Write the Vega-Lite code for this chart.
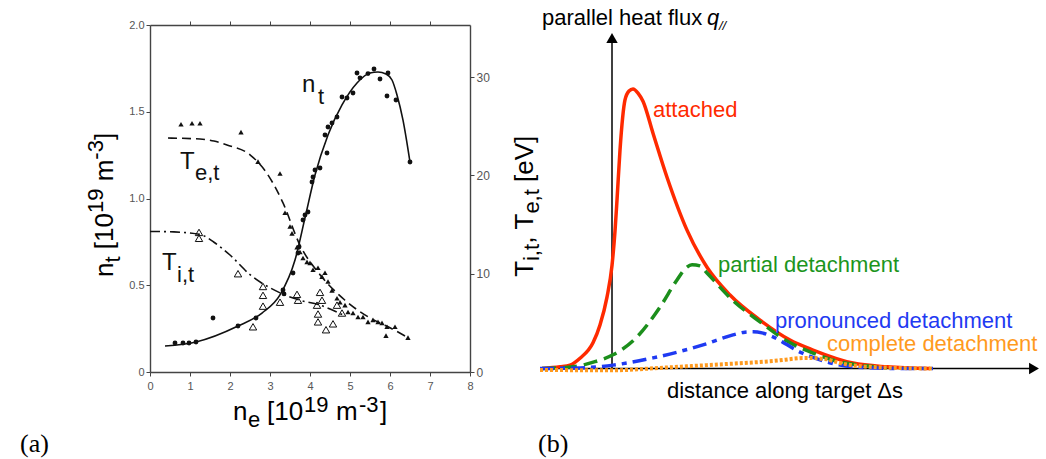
{
  "$schema": "https://vega.github.io/schema/vega-lite/v6.json",
  "background": "white",
  "padding": {"left": 20, "top": 7, "right": 0, "bottom": 0},
  "bounds": "flush",
  "spacing": 70,
  "config": {"view": {"stroke": null}, "font": "Liberation Sans", "axis": {"labelFont": "Liberation Sans"}},
  "datasets": {
    "nt_pts": [
      {"ne": 0.625, "nt": 0.167}, {"ne": 0.825, "nt": 0.167}, {"ne": 0.975, "nt": 0.167}, {"ne": 1.15, "nt": 0.173},
      {"ne": 1.575, "nt": 0.311}, {"ne": 2.2, "nt": 0.265}, {"ne": 2.65, "nt": 0.311}, {"ne": 3.325, "nt": 0.473},
      {"ne": 3.35, "nt": 0.45}, {"ne": 3.575, "nt": 0.571}, {"ne": 3.7, "nt": 0.686}, {"ne": 3.725, "nt": 0.72},
      {"ne": 3.825, "nt": 0.876}, {"ne": 3.875, "nt": 0.905}, {"ne": 3.95, "nt": 0.922}, {"ne": 4.05, "nt": 1.095},
      {"ne": 4.075, "nt": 1.124}, {"ne": 4.125, "nt": 1.164}, {"ne": 4.25, "nt": 1.176}, {"ne": 4.425, "nt": 1.262},
      {"ne": 4.375, "nt": 1.366}, {"ne": 4.45, "nt": 1.412}, {"ne": 4.55, "nt": 1.435}, {"ne": 4.675, "nt": 1.47},
      {"ne": 4.8, "nt": 1.585}, {"ne": 4.925, "nt": 1.579}, {"ne": 5.075, "nt": 1.608}, {"ne": 5.175, "nt": 1.723},
      {"ne": 5.25, "nt": 1.695}, {"ne": 5.45, "nt": 1.72}, {"ne": 5.6, "nt": 1.746}, {"ne": 5.75, "nt": 1.689},
      {"ne": 5.95, "nt": 1.723}, {"ne": 5.925, "nt": 1.591}, {"ne": 6.15, "nt": 1.568}, {"ne": 6.5, "nt": 1.21}
    ],
    "nt_fit": [
      {"ne": 0.375, "nt": 0.15}, {"ne": 1.15, "nt": 0.173}, {"ne": 2.2, "nt": 0.265}, {"ne": 2.8, "nt": 0.34},
      {"ne": 3.25, "nt": 0.444}, {"ne": 3.625, "nt": 0.645}, {"ne": 3.875, "nt": 0.888}, {"ne": 4.125, "nt": 1.135},
      {"ne": 4.45, "nt": 1.366}, {"ne": 4.8, "nt": 1.539}, {"ne": 5.175, "nt": 1.666}, {"ne": 5.5, "nt": 1.723},
      {"ne": 5.7, "nt": 1.729}, {"ne": 5.9, "nt": 1.718}, {"ne": 6.05, "nt": 1.683}, {"ne": 6.175, "nt": 1.597},
      {"ne": 6.325, "nt": 1.452}, {"ne": 6.5, "nt": 1.21}
    ],
    "te_pts": [
      {"ne": 0.775, "T": 25.2}, {"ne": 1.05, "T": 25.3}, {"ne": 1.25, "T": 25.3}, {"ne": 2.275, "T": 24.4},
      {"ne": 2.7, "T": 21.4}, {"ne": 3.25, "T": 20.2}, {"ne": 3.375, "T": 16.2}, {"ne": 3.5, "T": 14.8},
      {"ne": 3.55, "T": 14.1}, {"ne": 3.675, "T": 12.7}, {"ne": 3.75, "T": 12.2}, {"ne": 3.825, "T": 11.6},
      {"ne": 3.925, "T": 11.2}, {"ne": 4.0, "T": 11.1}, {"ne": 4.075, "T": 10.4}, {"ne": 4.2, "T": 10.6},
      {"ne": 4.3, "T": 9.7}, {"ne": 4.375, "T": 10.1}, {"ne": 4.45, "T": 9.2}, {"ne": 4.55, "T": 8.3},
      {"ne": 4.675, "T": 7.5}, {"ne": 4.75, "T": 7.1}, {"ne": 4.875, "T": 6.8}, {"ne": 4.95, "T": 6.1},
      {"ne": 5.075, "T": 6.0}, {"ne": 5.2, "T": 5.6}, {"ne": 5.325, "T": 5.6}, {"ne": 5.45, "T": 5.1},
      {"ne": 5.575, "T": 5.3}, {"ne": 5.7, "T": 5.1}, {"ne": 5.8, "T": 5.0}, {"ne": 5.925, "T": 4.6},
      {"ne": 5.9, "T": 3.7}, {"ne": 6.125, "T": 4.6}, {"ne": 6.45, "T": 3.5}
    ],
    "te_fit": [
      {"ne": 0.45, "T": 23.8}, {"ne": 1.25, "T": 23.7}, {"ne": 1.6, "T": 23.5}, {"ne": 1.925, "T": 23.1},
      {"ne": 2.5, "T": 22.1}, {"ne": 2.925, "T": 20.2}, {"ne": 3.325, "T": 17.2}, {"ne": 3.75, "T": 12.9},
      {"ne": 4.25, "T": 9.9}, {"ne": 4.875, "T": 7.3}, {"ne": 5.5, "T": 5.5}, {"ne": 6.0, "T": 4.5}, {"ne": 6.45, "T": 3.5}
    ],
    "ti_pts": [
      {"ne": 1.225, "T": 14.2}, {"ne": 1.225, "T": 13.6}, {"ne": 2.2, "T": 10.0}, {"ne": 2.825, "T": 8.7},
      {"ne": 2.825, "T": 7.8}, {"ne": 2.825, "T": 6.7}, {"ne": 2.575, "T": 4.6}, {"ne": 3.25, "T": 7.1},
      {"ne": 3.675, "T": 7.9}, {"ne": 3.7, "T": 7.3}, {"ne": 4.25, "T": 8.1}, {"ne": 4.3, "T": 7.3},
      {"ne": 4.175, "T": 6.8}, {"ne": 4.2, "T": 5.9}, {"ne": 4.2, "T": 5.1}, {"ne": 4.4, "T": 4.3},
      {"ne": 4.575, "T": 4.9}, {"ne": 4.675, "T": 6.8}, {"ne": 4.8, "T": 6.0}
    ],
    "ti_fit": [
      {"ne": 0.0, "T": 14.3}, {"ne": 0.6, "T": 14.25}, {"ne": 1.25, "T": 14.0}, {"ne": 1.6, "T": 13.2},
      {"ne": 2.0, "T": 11.9}, {"ne": 2.5, "T": 9.9}, {"ne": 3.125, "T": 8.3}, {"ne": 3.75, "T": 7.3},
      {"ne": 4.25, "T": 6.8}, {"ne": 4.825, "T": 5.8}
    ],
    "left_text": [
      {"text": "n", "ne": 3.8, "nt": 1.614, "kind": "label"},
      {"text": "t", "ne": 4.2, "nt": 1.545, "kind": "label_sub"},
      {"text": "T", "ne": 0.75, "nt": 1.17, "kind": "label"},
      {"text": "e,t", "ne": 1.125, "nt": 1.107, "kind": "label_sub"},
      {"text": "T", "ne": 0.3, "nt": 0.588, "kind": "label"},
      {"text": "i,t", "ne": 0.675, "nt": 0.519, "kind": "label_sub"},
      {"text": "n", "ne": 2.075, "nt": -0.277, "kind": "xtitle"},
      {"text": "e", "ne": 2.45, "nt": -0.317, "kind": "xtitle_small"},
      {"text": "[10", "ne": 2.925, "nt": -0.277, "kind": "xtitle"},
      {"text": "19", "ne": 3.85, "nt": -0.231, "kind": "xtitle_small"},
      {"text": "m", "ne": 4.65, "nt": -0.277, "kind": "xtitle"},
      {"text": "-3", "ne": 5.225, "nt": -0.231, "kind": "xtitle_small"},
      {"text": "]", "ne": 5.75, "nt": -0.277, "kind": "xtitle"},
      {"text": "n", "ne": -0.925, "nt": 0.548, "kind": "ytitle"},
      {"text": "t", "ne": -0.75, "nt": 0.631, "kind": "ytitle_small"},
      {"text": "[10", "ne": -0.925, "nt": 0.708, "kind": "ytitle"},
      {"text": "19", "ne": -1.175, "nt": 0.916, "kind": "ytitle_small"},
      {"text": "m", "ne": -0.925, "nt": 1.099, "kind": "ytitle"},
      {"text": "-3", "ne": -1.175, "nt": 1.224, "kind": "ytitle_small"},
      {"text": "]", "ne": -0.925, "nt": 1.337, "kind": "ytitle"},
      {"text": "(a)", "ne": -3.25, "nt": -0.46, "kind": "panel"}
    ],
    "curves": [
      {"regime": "attached", "s": 0.4, "q": 0}, {"regime": "attached", "s": 4, "q": 0.5}, {"regime": "attached", "s": 6, "q": 1},
      {"regime": "attached", "s": 8, "q": 3}, {"regime": "attached", "s": 10.6, "q": 7.5}, {"regime": "attached", "s": 12, "q": 12.7},
      {"regime": "attached", "s": 13.4, "q": 20.8}, {"regime": "attached", "s": 14.4, "q": 30}, {"regime": "attached", "s": 15, "q": 40},
      {"regime": "attached", "s": 15.4, "q": 49}, {"regime": "attached", "s": 16, "q": 63.6}, {"regime": "attached", "s": 17, "q": 78.2},
      {"regime": "attached", "s": 17.8, "q": 80.8}, {"regime": "attached", "s": 18.6, "q": 81.4}, {"regime": "attached", "s": 19.6, "q": 80.2},
      {"regime": "attached", "s": 20.6, "q": 77.8}, {"regime": "attached", "s": 22.6, "q": 68.5}, {"regime": "attached", "s": 25.4, "q": 55.7},
      {"regime": "attached", "s": 29.4, "q": 40.3}, {"regime": "attached", "s": 33.4, "q": 29.5}, {"regime": "attached", "s": 38, "q": 21.4},
      {"regime": "attached", "s": 44, "q": 14.1}, {"regime": "attached", "s": 50, "q": 8.3}, {"regime": "attached", "s": 54.6, "q": 5.4},
      {"regime": "attached", "s": 62.6, "q": 1.6}, {"regime": "attached", "s": 69.4, "q": 0.5}, {"regime": "attached", "s": 78, "q": 0},
      {"regime": "partial", "s": 0.4, "q": 0}, {"regime": "partial", "s": 6.6, "q": 0.5}, {"regime": "partial", "s": 11, "q": 2},
      {"regime": "partial", "s": 14.6, "q": 4}, {"regime": "partial", "s": 19.4, "q": 9.2}, {"regime": "partial", "s": 24, "q": 17.9},
      {"regime": "partial", "s": 27.4, "q": 25.8}, {"regime": "partial", "s": 29.2, "q": 29.3}, {"regime": "partial", "s": 30.4, "q": 30.2},
      {"regime": "partial", "s": 32, "q": 29.9}, {"regime": "partial", "s": 33.4, "q": 27.8}, {"regime": "partial", "s": 38.6, "q": 19.8},
      {"regime": "partial", "s": 44, "q": 13.6}, {"regime": "partial", "s": 49.4, "q": 8}, {"regime": "partial", "s": 54.6, "q": 4.5},
      {"regime": "partial", "s": 60, "q": 1.9}, {"regime": "partial", "s": 64, "q": 1}, {"regime": "partial", "s": 69.4, "q": 0.2},
      {"regime": "pronounced", "s": 0, "q": 0}, {"regime": "pronounced", "s": 8, "q": 0.2}, {"regime": "pronounced", "s": 14.6, "q": 1},
      {"regime": "pronounced", "s": 22.6, "q": 3.1}, {"regime": "pronounced", "s": 32.6, "q": 6.9}, {"regime": "pronounced", "s": 38.6, "q": 9.8},
      {"regime": "pronounced", "s": 41, "q": 10.6}, {"regime": "pronounced", "s": 42.6, "q": 10.7}, {"regime": "pronounced", "s": 44.4, "q": 10.4},
      {"regime": "pronounced", "s": 46.6, "q": 9.2}, {"regime": "pronounced", "s": 52, "q": 4.8}, {"regime": "pronounced", "s": 57.4, "q": 1.9},
      {"regime": "pronounced", "s": 62.6, "q": 0.5}, {"regime": "pronounced", "s": 72, "q": 0}, {"regime": "pronounced", "s": 78.6, "q": 0},
      {"regime": "complete", "s": 0, "q": -0.4}, {"regime": "complete", "s": 14.6, "q": -0.5}, {"regime": "complete", "s": 24, "q": 0.2},
      {"regime": "complete", "s": 33.4, "q": 1}, {"regime": "complete", "s": 46.6, "q": 2.2}, {"regime": "complete", "s": 53.4, "q": 3.1},
      {"regime": "complete", "s": 57, "q": 2.8}, {"regime": "complete", "s": 60, "q": 1.6}, {"regime": "complete", "s": 66, "q": 0.5},
      {"regime": "complete", "s": 78.6, "q": 0}
    ],
    "arrows": [
      {"s": 0, "q": 0, "s2": 98, "q2": 0},
      {"s": 14.4, "q": 0, "s2": 14.4, "q2": 95}
    ],
    "heads": [
      {"s": 98.8, "q": 0, "dir": "right"},
      {"s": 14.4, "q": 96.2, "dir": "up"}
    ],
    "right_text": [
      {"text": "attached", "s": 22.6, "q": 73.2, "kind": "attached"},
      {"text": "partial detachment", "s": 35.6, "q": 28.2, "kind": "partial"},
      {"text": "pronounced detachment", "s": 47, "q": 11.7, "kind": "pronounced"},
      {"text": "complete detachment", "s": 57.4, "q": 5.2, "kind": "complete"},
      {"text": "distance along target Δs", "s": 25.4, "q": -8.6, "kind": "axis"},
      {"text": "parallel heat flux", "s": 0.4, "q": 100, "kind": "axis"},
      {"text": "q", "s": 33.4, "q": 100, "kind": "italic"},
      {"text": "//", "s": 35.8, "q": 98.5, "kind": "italic_small"},
      {"text": "T", "s": -1.4, "q": 26.7, "kind": "ytitle"},
      {"text": "i,t", "s": -0.2, "q": 31.3, "kind": "ytitle_small"},
      {"text": ",", "s": -1.4, "q": 36.3, "kind": "ytitle"},
      {"text": "T", "s": -1.4, "q": 40.5, "kind": "ytitle"},
      {"text": "e,t", "s": -0.2, "q": 45.1, "kind": "ytitle_small"},
      {"text": "[eV]", "s": -1.4, "q": 54.3, "kind": "ytitle"},
      {"text": "(b)", "s": -0.4, "q": -24.3, "kind": "panel"}
    ]
  },
  "hconcat": [
    {
      "width": 320,
      "height": 347,
      "layer": [
        {
          "encoding": {
            "x": {"field": "ne", "type": "quantitative", "scale": {"domain": [0, 8], "nice": false, "zero": false},
              "axis": {"orient": "bottom", "values": [0, 1, 2, 3, 4, 5, 6, 7, 8], "title": null, "grid": false, "labelFontSize": 11, "labelColor": "#555", "tickColor": "#444", "domainColor": "#444", "domainWidth": 1.4, "tickSize": 4, "labelPadding": 4, "labelFlush": false}},
            "y": {"field": "nt", "type": "quantitative", "scale": {"domain": [0, 2], "nice": false, "zero": false},
              "axis": {"orient": "left", "values": [0, 0.5, 1, 1.5, 2], "labelExpr": "datum.value == 0 ? '0' : format(datum.value, '.1f')", "title": null, "grid": false, "labelFontSize": 11, "labelColor": "#555", "tickColor": "#444", "domainColor": "#444", "domainWidth": 1.4, "tickSize": 4, "labelPadding": 2, "labelFlush": false}}
          },
          "layer": [
            {"data": {"name": "nt_fit"}, "mark": {"type": "line", "interpolate": "monotone", "color": "#111", "strokeWidth": 1.6}},
            {"data": {"name": "nt_pts"}, "mark": {"type": "point", "shape": "circle", "filled": true, "color": "#111", "size": 24, "opacity": 1}},
            {"data": {"name": "left_text"}, "transform": [{"filter": "datum.kind === 'label'"}],
              "mark": {"type": "text", "align": "left", "baseline": "alphabetic", "fontSize": 24, "color": "#111"}, "encoding": {"text": {"field": "text"}}},
            {"data": {"name": "left_text"}, "transform": [{"filter": "datum.kind === 'label_sub'"}],
              "mark": {"type": "text", "align": "left", "baseline": "alphabetic", "fontSize": 22, "color": "#111"}, "encoding": {"text": {"field": "text"}}},
            {"data": {"name": "left_text"}, "transform": [{"filter": "datum.kind === 'xtitle'"}],
              "mark": {"type": "text", "align": "left", "baseline": "alphabetic", "fontSize": 26, "color": "#000"}, "encoding": {"text": {"field": "text"}}},
            {"data": {"name": "left_text"}, "transform": [{"filter": "datum.kind === 'xtitle_small'"}],
              "mark": {"type": "text", "align": "left", "baseline": "alphabetic", "fontSize": 22, "color": "#000"}, "encoding": {"text": {"field": "text"}}},
            {"data": {"name": "left_text"}, "transform": [{"filter": "datum.kind === 'ytitle'"}],
              "mark": {"type": "text", "align": "left", "baseline": "alphabetic", "angle": 270, "fontSize": 26, "color": "#000"}, "encoding": {"text": {"field": "text"}}},
            {"data": {"name": "left_text"}, "transform": [{"filter": "datum.kind === 'ytitle_small'"}],
              "mark": {"type": "text", "align": "left", "baseline": "alphabetic", "angle": 270, "fontSize": 22, "color": "#000"}, "encoding": {"text": {"field": "text"}}},
            {"data": {"name": "left_text"}, "transform": [{"filter": "datum.kind === 'panel'"}],
              "mark": {"type": "text", "align": "left", "baseline": "alphabetic", "fontSize": 26, "font": "Liberation Serif", "color": "#000"}, "encoding": {"text": {"field": "text"}}}
          ]
        },
        {
          "encoding": {
            "x": {"field": "ne", "type": "quantitative", "scale": {"domain": [0, 8], "nice": false, "zero": false},
              "axis": {"orient": "top", "values": [1, 2, 3, 4, 5, 6, 7], "labels": false, "title": null, "grid": false, "tickColor": "#444", "domainColor": "#444", "domainWidth": 1.4, "tickSize": 4}},
            "y": {"field": "T", "type": "quantitative", "scale": {"domain": [0, 35.3], "nice": false, "zero": false},
              "axis": {"orient": "right", "values": [0, 10, 20, 30], "title": null, "grid": false, "labelFontSize": 12, "labelColor": "#555", "tickColor": "#444", "domainColor": "#444", "domainWidth": 1.4, "tickSize": 4, "labelPadding": 2, "labelFlush": false}}
          },
          "layer": [
            {"data": {"name": "te_fit"}, "mark": {"type": "line", "interpolate": "monotone", "color": "#111", "strokeWidth": 1.6, "strokeDash": [9, 5]}},
            {"data": {"name": "ti_fit"}, "mark": {"type": "line", "interpolate": "monotone", "color": "#111", "strokeWidth": 1.6, "strokeDash": [10, 4, 2, 4]}},
            {"data": {"name": "te_pts"}, "mark": {"type": "point", "shape": "triangle-up", "filled": true, "color": "#111", "size": 28, "opacity": 1}},
            {"data": {"name": "ti_pts"}, "mark": {"type": "point", "shape": "triangle-up", "filled": false, "color": "#111", "strokeWidth": 1, "size": 55, "opacity": 1}}
          ]
        }
      ],
      "resolve": {"scale": {"y": "independent"}, "axis": {"x": "independent", "y": "independent"}}
    },
    {
      "width": 500,
      "height": 347,
      "encoding": {
        "x": {"field": "s", "type": "quantitative", "scale": {"domain": [0, 100], "nice": false, "zero": false}, "axis": null},
        "y": {"field": "q", "type": "quantitative", "scale": {"domain": [-1, 100], "nice": false, "zero": false}, "axis": null}
      },
      "layer": [
        {"data": {"name": "arrows"}, "mark": {"type": "rule", "color": "#000", "strokeWidth": 1.5},
          "encoding": {"x2": {"field": "s2"}, "y2": {"field": "q2"}}},
        {"data": {"name": "heads"}, "mark": {"type": "point", "filled": true, "color": "#000", "size": 130, "opacity": 1},
          "encoding": {"shape": {"field": "dir", "type": "nominal", "scale": {"domain": ["right", "up"], "range": ["triangle-right", "triangle-up"]}, "legend": null}}},
        {"data": {"name": "curves"}, "transform": [{"filter": "datum.regime === 'attached'"}],
          "mark": {"type": "line", "interpolate": "monotone", "color": "#ff2a00", "strokeWidth": 3.5}},
        {"data": {"name": "curves"}, "transform": [{"filter": "datum.regime === 'partial'"}],
          "mark": {"type": "line", "interpolate": "monotone", "color": "#1c8f1c", "strokeWidth": 3.5, "strokeDash": [14, 7]}},
        {"data": {"name": "curves"}, "transform": [{"filter": "datum.regime === 'pronounced'"}],
          "mark": {"type": "line", "interpolate": "monotone", "color": "#1f3af2", "strokeWidth": 3.5, "strokeDash": [14, 6, 5, 6]}},
        {"data": {"name": "curves"}, "transform": [{"filter": "datum.regime === 'complete'"}],
          "mark": {"type": "line", "interpolate": "monotone", "color": "#ff9a1e", "strokeWidth": 4, "strokeDash": [3, 2]}},
        {"data": {"name": "right_text"}, "transform": [{"filter": "datum.kind === 'attached'"}],
          "mark": {"type": "text", "align": "left", "baseline": "alphabetic", "fontSize": 22, "color": "#ff2a00"}, "encoding": {"text": {"field": "text"}}},
        {"data": {"name": "right_text"}, "transform": [{"filter": "datum.kind === 'partial'"}],
          "mark": {"type": "text", "align": "left", "baseline": "alphabetic", "fontSize": 22, "color": "#1c951c"}, "encoding": {"text": {"field": "text"}}},
        {"data": {"name": "right_text"}, "transform": [{"filter": "datum.kind === 'pronounced'"}],
          "mark": {"type": "text", "align": "left", "baseline": "alphabetic", "fontSize": 22, "color": "#1f3af2"}, "encoding": {"text": {"field": "text"}}},
        {"data": {"name": "right_text"}, "transform": [{"filter": "datum.kind === 'complete'"}],
          "mark": {"type": "text", "align": "left", "baseline": "alphabetic", "fontSize": 22, "color": "#ff9a1e"}, "encoding": {"text": {"field": "text"}}},
        {"data": {"name": "right_text"}, "transform": [{"filter": "datum.kind === 'axis'"}],
          "mark": {"type": "text", "align": "left", "baseline": "alphabetic", "fontSize": 22, "color": "#000"}, "encoding": {"text": {"field": "text"}}},
        {"data": {"name": "right_text"}, "transform": [{"filter": "datum.kind === 'italic'"}],
          "mark": {"type": "text", "align": "left", "baseline": "alphabetic", "fontSize": 22, "fontStyle": "italic", "color": "#000"}, "encoding": {"text": {"field": "text"}}},
        {"data": {"name": "right_text"}, "transform": [{"filter": "datum.kind === 'italic_small'"}],
          "mark": {"type": "text", "align": "left", "baseline": "alphabetic", "fontSize": 13, "fontStyle": "italic", "color": "#000"}, "encoding": {"text": {"field": "text"}}},
        {"data": {"name": "right_text"}, "transform": [{"filter": "datum.kind === 'ytitle'"}],
          "mark": {"type": "text", "align": "left", "baseline": "alphabetic", "angle": 270, "fontSize": 26, "color": "#000"}, "encoding": {"text": {"field": "text"}}},
        {"data": {"name": "right_text"}, "transform": [{"filter": "datum.kind === 'ytitle_small'"}],
          "mark": {"type": "text", "align": "left", "baseline": "alphabetic", "angle": 270, "fontSize": 22, "color": "#000"}, "encoding": {"text": {"field": "text"}}},
        {"data": {"name": "right_text"}, "transform": [{"filter": "datum.kind === 'panel'"}],
          "mark": {"type": "text", "align": "left", "baseline": "alphabetic", "fontSize": 26, "font": "Liberation Serif", "color": "#000"}, "encoding": {"text": {"field": "text"}}}
      ]
    }
  ]
}
